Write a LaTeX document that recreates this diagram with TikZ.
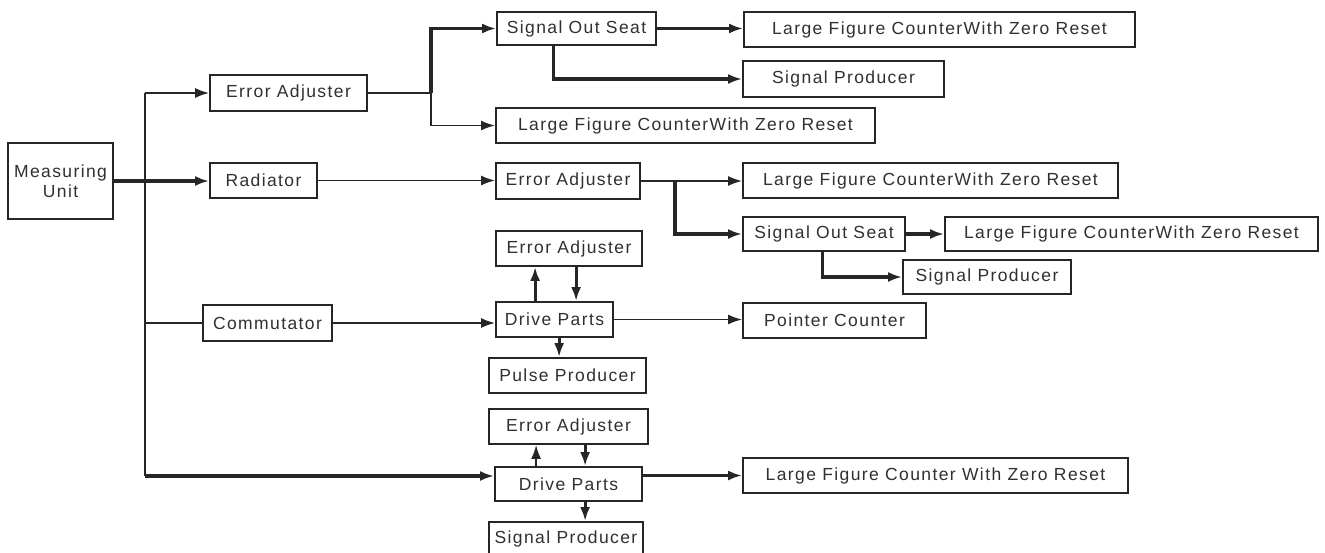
\documentclass[tikz,border=0pt]{standalone}
\usepackage{fontspec}
\setmainfont{Liberation Sans}[LetterSpace=8]
\usetikzlibrary{arrows.meta}
\definecolor{ln}{HTML}{262626}
\definecolor{tx}{HTML}{303030}
\tikzset{
 bx/.style={draw=ln, line width=1.8pt, inner sep=0pt, text=tx, font=\fontsize{17.5}{19.5}\selectfont, align=center},
 thn/.style={draw=ln, line width=1.8pt},
 thk/.style={draw=ln, line width=3.2pt},
 arr/.style={-{Latex[length=14pt,width=10pt]}},
}
\newcommand\bx[6]{\node[bx, minimum width={(#4-#2)*1pt}, minimum height={(#5-#3)*1pt}] (#1) at ({(#2+#4)/2},{(#3+#5)/2}) {#6};}
\begin{document}
\begin{tikzpicture}[x=1pt,y=-1pt]
\useasboundingbox[fill=white] (0,0) rectangle (1325,552);
\bx{mu}{8}{143}{113}{219}{Measuring\\Unit}
\bx{ea1}{210}{75}{367}{111}{Error Adjuster}
\bx{rad}{210}{163}{317}{198}{Radiator}
\bx{com}{203}{305}{332}{341}{Commutator}
\bx{sos1}{497}{12}{656}{45}{Signal Out Seat}
\bx{lf1}{744}{12}{1135}{47}{Large Figure CounterWith Zero Reset}
\bx{sp1}{743}{61}{944}{97}{Signal Producer}
\bx{lfr3}{496}{108}{875}{143}{Large Figure CounterWith Zero Reset}
\bx{ea2}{496}{163}{640}{199}{Error Adjuster}
\bx{lf2}{743}{163}{1118}{198}{Large Figure CounterWith Zero Reset}
\bx{sos2}{743}{217}{905}{251}{Signal Out Seat}
\bx{lf3}{945}{217}{1318}{251}{Large Figure CounterWith Zero Reset}
\bx{sp2}{903}{260}{1071}{294}{Signal Producer}
\bx{ea3}{496}{231}{642}{266}{Error Adjuster}
\bx{dp1}{496}{302}{613}{337}{Drive Parts}
\bx{pc}{743}{303}{926}{338}{Pointer Counter}
\bx{pp}{489}{358}{646}{393}{Pulse Producer}
\bx{ea4}{489}{409}{648}{444}{Error Adjuster}
\bx{dp2}{495}{467}{642}{501}{Drive Parts}
\bx{lf4}{743}{458}{1128}{493}{Large Figure Counter With Zero Reset}
\bx{sp3}{489}{522}{643}{556}{Signal Producer}

\coordinate (tTop) at (145,93);
\coordinate (tBot) at (145,476);
\draw[thn] (tTop) -- (tBot);
\draw[thn,arr] (tTop) -- (ea1.west);
\draw[thk,arr] (mu.east) -- (mu.east -| rad.west);
\draw[thn] (tTop |- com.west) -- (com.west);
\draw[thk,arr] (tBot) -- (tBot -| dp2.west);
\draw[thn,arr] (rad.east) -- (rad.east -| ea2.west);

\coordinate (b1) at (431,93);
\draw[thn] (ea1.east) -- (b1);
\draw[thk,arr] (b1) |- (sos1.west);
\draw[thn,arr] (b1) |- (lfr3.west);
\draw[thk,arr] (sos1.east) -- (sos1.east -| lf1.west);
\coordinate (s1) at ([xshift=57pt]sos1.south west);
\draw[thk,arr] (s1) |- (sp1.west);

\coordinate (b2) at (675,181);
\draw[thn,arr] (ea2.east) -- (ea2.east -| lf2.west);
\draw[thk,arr] (b2) |- (sos2.west);
\draw[thk,arr] (sos2.east) -- (sos2.east -| lf3.west);
\coordinate (s2) at ([xshift=80pt]sos2.south west);
\draw[thk,arr] (s2) |- (sp2.west);

\draw[thn,arr] (com.east) -- (com.east -| dp1.west);
\draw[thn,arr] (dp1.east) -- (dp1.east -| pc.west);
\coordinate (u1) at ([xshift=40pt]dp1.north west);
\draw[thk,arr] (u1) -- (u1 |- ea3.south);
\coordinate (d1) at ([xshift=81pt]ea3.south west);
\draw[thk,arr] (d1) -- (d1 |- dp1.north);
\coordinate (p1) at ([xshift=64pt]dp1.south west);
\draw[thk,arr] (p1) -- (p1 |- pp.north);

\coordinate (u2) at ([xshift=42pt]dp2.north west);
\draw[thn,arr] (u2) -- (u2 |- ea4.south);
\coordinate (d2) at ([xshift=97pt]ea4.south west);
\draw[thk,arr] (d2) -- (d2 |- dp2.north);
\coordinate (p2) at ([xshift=91pt]dp2.south west);
\draw[thk,arr] (p2) -- (p2 |- sp3.north);
\draw[thk,arr] (dp2.east |- lf4.west) -- (lf4.west);
\end{tikzpicture}
\end{document}
